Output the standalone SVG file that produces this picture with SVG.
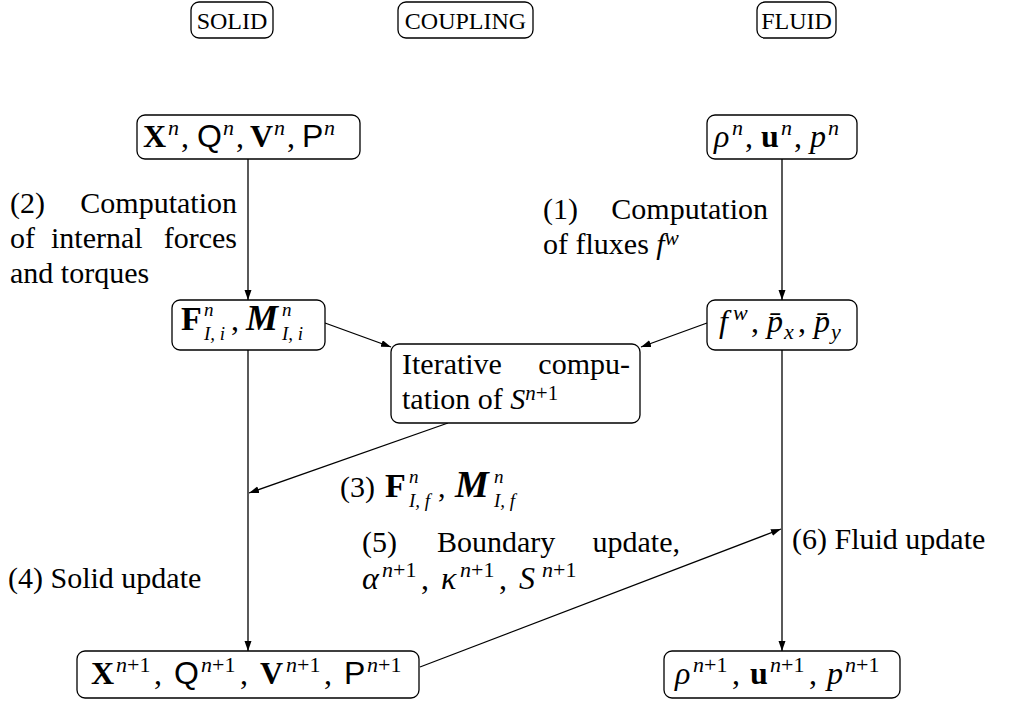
<svg xmlns="http://www.w3.org/2000/svg" width="1009" height="702" viewBox="0 0 1009 702">
<style>
text{font-family:"Liberation Serif","DejaVu Serif",serif;font-size:30px;fill:#000}
.hd{font-size:24px}
.m{font-size:32px}
.b{font-weight:bold}
.i{font-style:italic}
.bi{font-weight:bold;font-style:italic}
.sf{font-family:"Liberation Sans","DejaVu Sans",sans-serif}
.s{font-size:22px;font-style:italic}
.ss{font-size:19px;font-style:italic}
.st{font-size:21px;font-style:italic}
.su{font-size:22px}
.su2{font-size:21px}
rect.n{fill:#fff;stroke:#000;stroke-width:1.3}
.c line{stroke:#000;stroke-width:1.3;fill:none}
</style>
<defs>
<marker id="ah" markerUnits="userSpaceOnUse" markerWidth="11" markerHeight="8" refX="10" refY="3.5" orient="auto">
<path d="M0,0 L10,3.5 L0,7 z" fill="#000"/>
</marker>
</defs>
<g id="connectors" class="c">
<line x1="248" y1="159" x2="248" y2="300" marker-end="url(#ah)"/>
<line x1="782" y1="159" x2="782" y2="300" marker-end="url(#ah)"/>
<line x1="325" y1="323" x2="391" y2="347" marker-end="url(#ah)"/>
<line x1="707" y1="323" x2="641" y2="347" marker-end="url(#ah)"/>
<line x1="448" y1="423" x2="249" y2="493" marker-end="url(#ah)"/>
<line x1="248" y1="350" x2="248" y2="651" marker-end="url(#ah)"/>
<line x1="782" y1="350" x2="782" y2="651" marker-end="url(#ah)"/>
<line x1="420" y1="667" x2="781" y2="529" marker-end="url(#ah)"/>
</g>
<g id="hdr-solid"><rect class="n" x="191" y="2" width="82" height="36" rx="8"/><text class="hd" x="232" y="29" text-anchor="middle">SOLID</text></g>
<g id="hdr-coupling"><rect class="n" x="398" y="2" width="135" height="36" rx="8"/><text class="hd" x="465.5" y="29" text-anchor="middle">COUPLING</text></g>
<g id="hdr-fluid"><rect class="n" x="757" y="2" width="79" height="36" rx="8"/><text class="hd" x="796.5" y="29" text-anchor="middle">FLUID</text></g>

<g id="solid-n"><rect class="n" x="137" y="115" width="223" height="44" rx="8"/>
<text class="m"><tspan class="b" x="143" y="147">X</tspan><tspan class="s" x="168" y="135">n</tspan><tspan x="181" y="147">,</tspan><tspan class="sf" x="197" y="147">Q</tspan><tspan class="s" x="223" y="135">n</tspan><tspan x="236" y="147">,</tspan><tspan class="b" x="250" y="147">V</tspan><tspan class="s" x="274" y="135">n</tspan><tspan x="287" y="147">,</tspan><tspan class="sf" x="302" y="147">P</tspan><tspan class="s" x="324" y="135">n</tspan></text></g>

<g id="fluid-n"><rect class="n" x="707" y="115" width="150" height="44" rx="8"/>
<text class="m"><tspan class="i" x="714" y="147">ρ</tspan><tspan class="s" x="732" y="135">n</tspan><tspan x="745" y="147">,</tspan><tspan class="b" x="761" y="147">u</tspan><tspan class="s" x="781" y="135">n</tspan><tspan x="794" y="147">,</tspan><tspan class="i" x="810" y="147">p</tspan><tspan class="s" x="828" y="135">n</tspan></text></g>

<g id="label-2">
<text x="10" y="213">(2)</text><text x="237" y="213" text-anchor="end">Computation</text>
<text x="10" y="248">of</text><text x="51" y="248">internal</text><text x="237" y="248" text-anchor="end">forces</text>
<text x="10" y="283">and torques</text>
</g>
<g id="label-1">
<text x="543" y="219">(1)</text><text x="768" y="219" text-anchor="end">Computation</text>
<text x="543" y="254">of fluxes <tspan class="i">f</tspan><tspan class="st" dy="-9">w</tspan></text>
</g>

<g id="forces-i"><rect class="n" x="172" y="300" width="153" height="50" rx="8"/>
<text class="m"><tspan class="b" x="181" y="330" font-size="34">F</tspan><tspan class="ss" x="204" y="316">n</tspan><tspan class="ss" x="204" y="340">I, i</tspan><tspan x="231" y="330">,</tspan><tspan class="bi" x="246" y="330" font-size="36">M</tspan><tspan class="ss" x="282" y="316">n</tspan><tspan class="ss" x="282" y="340">I, i</tspan></text></g>

<g id="fluxes"><rect class="n" x="707" y="300" width="150" height="50" rx="8"/>
<text class="m"><tspan class="i" x="719" y="332">f</tspan><tspan class="s" x="733" y="320">w</tspan><tspan x="751" y="332">,</tspan><tspan class="i" x="767" y="332">p̄</tspan><tspan class="s" x="784" y="339">x</tspan><tspan x="798" y="332">,</tspan><tspan class="i" x="814" y="332">p̄</tspan><tspan class="s" x="831" y="339">y</tspan></text></g>

<g id="iterative"><rect class="n" x="391" y="344" width="249" height="79" rx="8"/>
<text x="402" y="374">Iterative</text><text x="630" y="374" text-anchor="end">compu-</text>
<text x="402" y="409">tation of <tspan class="i">S</tspan><tspan class="st" dy="-9">n</tspan><tspan class="su2">+1</tspan></text></g>

<g id="label-3"><text><tspan x="340" y="497">(3)</tspan><tspan class="b" x="385" y="497" font-size="34">F</tspan><tspan class="ss" x="409" y="483">n</tspan><tspan class="ss" x="409" y="507">I, f</tspan><tspan x="438" y="497">,</tspan><tspan class="bi" x="455" y="497" font-size="38">M</tspan><tspan class="ss" x="494" y="483">n</tspan><tspan class="ss" x="494" y="507">I, f</tspan></text></g>

<g id="label-4"><text x="8" y="588">(4) Solid update</text></g>
<g id="label-5">
<text x="362" y="552">(5)</text><text x="437" y="552">Boundary</text><text x="680" y="552" text-anchor="end">update,</text>
<text class="m"><tspan class="i" x="362" y="589">α</tspan><tspan class="s" x="382" y="577">n</tspan><tspan class="su">+1</tspan><tspan x="421" y="589">,</tspan><tspan class="i" x="441" y="589">κ</tspan><tspan class="s" x="460" y="577">n</tspan><tspan class="su">+1</tspan><tspan x="499" y="589">,</tspan><tspan class="i" x="519" y="589">S</tspan><tspan class="s" x="542" y="577">n</tspan><tspan class="su">+1</tspan></text>
</g>
<g id="label-6"><text x="792" y="549">(6) Fluid update</text></g>

<g id="solid-n1"><rect class="n" x="77" y="651" width="342" height="47" rx="8"/>
<text class="m"><tspan class="b" x="91" y="684">X</tspan><tspan class="s" x="116" y="672">n</tspan><tspan class="su">+1</tspan><tspan x="154" y="684">,</tspan><tspan class="sf" x="174" y="684">Q</tspan><tspan class="s" x="201" y="672">n</tspan><tspan class="su">+1</tspan><tspan x="240" y="684">,</tspan><tspan class="b" x="260" y="684">V</tspan><tspan class="s" x="286" y="672">n</tspan><tspan class="su">+1</tspan><tspan x="324" y="684">,</tspan><tspan class="sf" x="344" y="684">P</tspan><tspan class="s" x="367" y="672">n</tspan><tspan class="su">+1</tspan></text></g>

<g id="fluid-n1"><rect class="n" x="664" y="651" width="236" height="47" rx="8"/>
<text class="m"><tspan class="i" x="675" y="684">ρ</tspan><tspan class="s" x="693" y="672">n</tspan><tspan class="su">+1</tspan><tspan x="732" y="684">,</tspan><tspan class="b" x="750" y="684">u</tspan><tspan class="s" x="770" y="672">n</tspan><tspan class="su">+1</tspan><tspan x="809" y="684">,</tspan><tspan class="i" x="827" y="684">p</tspan><tspan class="s" x="845" y="672">n</tspan><tspan class="su">+1</tspan></text></g>
</svg>
